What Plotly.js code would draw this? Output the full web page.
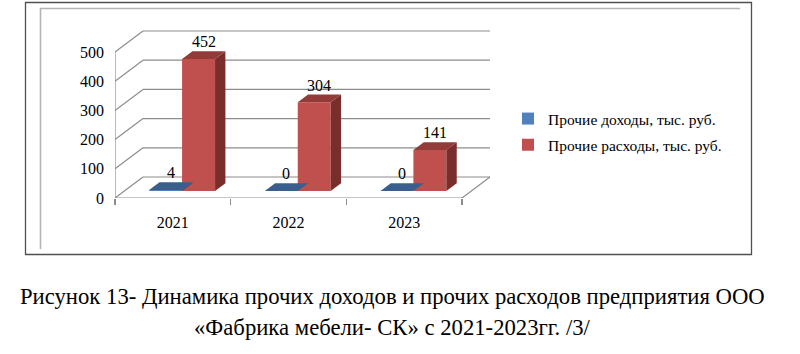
<!DOCTYPE html>
<html>
<head>
<meta charset="utf-8">
<script src="https://cdn.plot.ly/plotly-3.0.1.min.js"></script>
<style>
html,body{margin:0;padding:0;background:#fff;}
#chart{width:800px;height:354px;}
</style>
</head>
<body>
<div id="chart"></div>
<script>
// ---- data ----
var categories = ['2021', '2022', '2023'];
var seriesNames = ['Прочие доходы, тыс. руб.', 'Прочие расходы, тыс. руб.'];
var incomeValues = [4, 0, 0];
var expenseValues = [452, 304, 141];
var yTickValues = [0, 100, 200, 300, 400, 500];
var captionLines = [
  'Рисунок 13- Динамика прочих доходов и прочих расходов предприятия ООО',
  '«Фабрика мебели- СК» с 2021-2023гг. /3/'
];

// ---- geometry / styling ----
var W = 800, H = 354;
var M = {l: 115, r: 310, t: 28, b: 156};
var plotW = W - M.l - M.r, plotH = H - M.t - M.b;
var xRange = [-0.5, 2.742];
var yRange = [0, 582.2];
var pxPerX = plotW / (xRange[1] - xRange[0]);
var pxPerY = plotH / (yRange[1] - yRange[0]);
var depthDX = 28 / pxPerX;   // depth vector in data units
var depthDY = 21 / pxPerY;
var frontD = 0.33, backD = 0.70;
var barW = 0.285;
var SERIF = 'Liberation Serif, Times New Roman, serif';

var colors = [
  {front: '#4F81BD', top: '#3A5F8E', side: '#2F4E75'},
  {front: '#C0504D', top: '#923B39', side: '#7A2E2C'}
];
var allSeries = [incomeValues, expenseValues];
var seriesOffsets = [-barW, 0];

function pxX(px) { return (px - M.l) / plotW; }
function pxY(py) { return (H - M.b - py) / plotH; }

var traces = [];
var shapes = [];
var annotations = [];

var gridColor = '#8c8c8c';
yTickValues.forEach(function (v) {
  shapes.push({type: 'line', layer: 'below', xref: 'x', yref: 'y',
    x0: xRange[0] + depthDX, y0: v + depthDY, x1: xRange[1], y1: v + depthDY,
    line: {color: gridColor, width: 1.2}});
  shapes.push({type: 'line', layer: 'below', xref: 'x', yref: 'y',
    x0: xRange[0], y0: v, x1: xRange[0] + depthDX, y1: v + depthDY,
    line: {color: gridColor, width: 1.2}});
});
var lastX = categories.length - 0.5;
shapes.push({type: 'line', layer: 'below', xref: 'x', yref: 'y',
  x0: xRange[0], y0: 0, x1: lastX, y1: 0, line: {color: gridColor, width: 1.2}});
shapes.push({type: 'line', layer: 'below', xref: 'x', yref: 'y',
  x0: lastX, y0: 0, x1: lastX + depthDX, y1: depthDY, line: {color: gridColor, width: 1.2}});
shapes.push({type: 'line', layer: 'below', xref: 'x', yref: 'y',
  x0: xRange[0], y0: 0, x1: xRange[0], y1: yTickValues[yTickValues.length - 1],
  line: {color: gridColor, width: 1.2}});

allSeries.forEach(function (vals, s) {
  var off = seriesOffsets[s];
  var xs = categories.map(function (c, i) { return i; });
  traces.push({
    type: 'bar', name: seriesNames[s], legendgroup: 'g' + s, x: xs, y: vals,
    base: frontD * depthDY, width: barW, offset: off + frontD * depthDX,
    marker: {color: colors[s].front, line: {width: 0}},
    hoverinfo: 'skip'
  });
  vals.forEach(function (v, i) {
    var x0 = i + off + frontD * depthDX, x1 = x0 + barW;
    var yb = frontD * depthDY, yt = yb + v;
    var ddx = (backD - frontD) * depthDX, ddy = (backD - frontD) * depthDY;
    traces.push({type: 'scatter', mode: 'lines', showlegend: false, hoverinfo: 'skip',
      x: [x1, x1 + ddx, x1 + ddx, x1, x1], y: [yb, yb + ddy, yt + ddy, yt, yb],
      fill: 'toself', fillcolor: colors[s].side, line: {width: 0, color: colors[s].side}});
    traces.push({type: 'scatter', mode: 'lines', showlegend: false, hoverinfo: 'skip',
      x: [x0, x1, x1 + ddx, x0 + ddx, x0], y: [yt, yt, yt + ddy, yt + ddy, yt],
      fill: 'toself', fillcolor: colors[s].top, line: {width: 0, color: colors[s].top}});
    annotations.push({xref: 'x', yref: 'y', x: x0 + barW / 2 + 0.5 * (backD - frontD) * depthDX,
      y: yt + ddy, yanchor: 'bottom', xanchor: 'center', showarrow: false, yshift: -1,
      text: String(v), font: {family: SERIF, size: 16, color: '#000'}});
  });
});

traces.push({type: 'scatter', x: [0], y: [0], xaxis: 'x2', yaxis: 'y', mode: 'markers',
  marker: {opacity: 0}, showlegend: false, hoverinfo: 'skip'});

shapes.push({type: 'rect', xref: 'paper', yref: 'paper', layer: 'below',
  x0: pxX(25.5), x1: pxX(751.5), y0: pxY(2.5), y1: pxY(254.5),
  line: {color: '#505050', width: 1.3}});
shapes.push({type: 'line', xref: 'paper', yref: 'paper', layer: 'below',
  x0: pxX(40), x1: pxX(740), y0: pxY(8.5), y1: pxY(8.5),
  line: {color: '#b4b4b4', width: 1.6}});
shapes.push({type: 'line', xref: 'paper', yref: 'paper', layer: 'below',
  x0: pxX(40.5), x1: pxX(40.5), y0: pxY(8), y1: pxY(249),
  line: {color: '#b4b4b4', width: 1.6}});

captionLines.forEach(function (t, k) {
  annotations.push({xref: 'paper', yref: 'paper', x: pxX(392), y: pxY(296 + 31 * k),
    xanchor: 'center', yanchor: 'middle', showarrow: false, text: t,
    font: {family: SERIF, size: 22.7, color: '#000'}});
});

var layout = {
  width: W, height: H,
  margin: M,
  font: {family: SERIF},
  paper_bgcolor: '#fff', plot_bgcolor: 'rgba(0,0,0,0)',
  barmode: 'overlay',
  showlegend: true,
  legend: {x: pxX(508), y: pxY(102), xanchor: 'left', yanchor: 'top',
    font: {family: SERIF, size: 15.5, color: '#000'}, tracegroupgap: 3,
    itemwidth: 30, bgcolor: 'rgba(0,0,0,0)'},
  xaxis: {range: xRange, showgrid: false, zeroline: false, showline: false,
    tickvals: categories.map(function (c, i) { return i - 0.5; }).concat([categories.length - 0.5]),
    showticklabels: false, ticks: 'outside', ticklen: 6, tickcolor: gridColor, tickwidth: 1.2},
  xaxis2: {range: xRange, overlaying: 'x', side: 'bottom', showgrid: false, zeroline: false,
    showline: false, tickvals: categories.map(function (c, i) { return i; }), ticktext: categories,
    ticks: '', ticklabelstandoff: 13, tickfont: {family: SERIF, size: 16, color: '#000'}},
  yaxis: {range: yRange, showgrid: false, zeroline: false, showline: false,
    tickvals: yTickValues, ticks: '', ticklabelstandoff: 10,
    tickfont: {family: SERIF, size: 16, color: '#000'}},
  shapes: shapes,
  annotations: annotations
};

Plotly.newPlot('chart', traces, layout, {staticPlot: true, displayModeBar: false});
</script>
</body>
</html>
